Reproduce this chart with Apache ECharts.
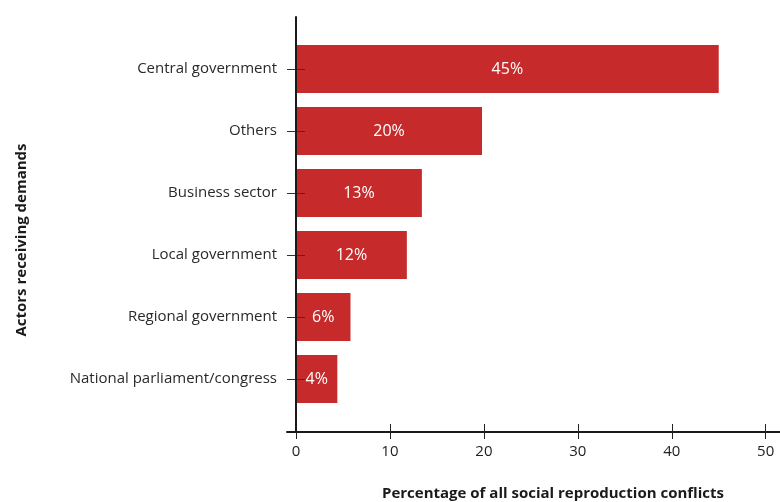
<!DOCTYPE html>
<html>
<head>
<meta charset="utf-8">
<script src="https://cdn.jsdelivr.net/npm/echarts@6/dist/echarts.min.js"></script>
<style>html,body{margin:0;padding:0;background:#fff}#main{width:780px;height:502px}</style>
</head>
<body>
<div id="main"></div>
<script>
const categories = ['Central government', 'Others', 'Business sector', 'Local government', 'Regional government', 'National parliament/congress'];
const values = [45, 19.8, 13.4, 11.8, 5.8, 4.4];
const xMin = 0, xMax = 50, xInterval = 10;
const xAxisTitle = 'Percentage of all social reproduction conflicts';
const yAxisTitle = 'Actors receiving demands';

const FONT = 'Open Sans';
const chart = echarts.init(document.getElementById('main'), null, {renderer: 'canvas'});
chart.setOption({
  animation: false,
  backgroundColor: '#fff',
  textStyle: {fontFamily: FONT},
  title: {
    text: xAxisTitle, left: 377, top: 481,
    textStyle: {fontFamily: FONT, fontSize: 15, fontWeight: 'bold', color: '#1a1a1a'}
  },
  graphic: [{
    type: 'text', x: 22, y: 240, rotation: Math.PI / 2,
    style: {text: yAxisTitle, font: 'bold 15px "Open Sans"', fill: '#1a1a1a', textAlign: 'center', textVerticalAlign: 'middle'}
  }],
  grid: [
    {left: 296, right: 14.3, top: 38, bottom: 92},
    {left: 287, right: 0, top: 17, bottom: 70}
  ],
  xAxis: [
    {gridIndex: 0, type: 'value', position: 'bottom', min: xMin, max: xMax, interval: xInterval, offset: 14, z: 10,
      axisLine: {show: false}, splitLine: {show: false},
      axisTick: {show: true, length: 15, lineStyle: {color: '#222', width: 1}},
      axisLabel: {margin: 20, fontSize: 15, color: '#222', fontFamily: FONT}},
    {gridIndex: 1, type: 'value', position: 'bottom', min: -0.96, max: 51.52, z: 10,
      axisLine: {show: true, onZero: true, lineStyle: {color: '#1a1a1a', width: 2}},
      axisTick: {show: false}, axisLabel: {show: false}, splitLine: {show: false}}
  ],
  yAxis: [
    {gridIndex: 0, type: 'category', position: 'left', data: categories, inverse: true, offset: -9, z: 10,
      axisLine: {show: false},
      axisTick: {show: true, alignWithLabel: true, length: 18, lineStyle: {color: '#333', width: 1}},
      axisLabel: {margin: 28, fontSize: 15, color: '#2a2a2a', fontFamily: FONT}},
    {gridIndex: 1, type: 'value', position: 'left', min: 0, max: 1, z: 11,
      axisLine: {show: true, onZero: true, lineStyle: {color: '#1a1a1a', width: 2}},
      axisTick: {show: false}, axisLabel: {show: false}, splitLine: {show: false}}
  ],
  series: [{
    type: 'bar', xAxisIndex: 0, yAxisIndex: 0, data: values, barWidth: 48, z: 1,
    itemStyle: {color: '#C62A2A'},
    label: {show: true, position: 'inside', color: '#fff', fontSize: 16, fontFamily: FONT,
      formatter: p => Math.round(p.value) + '%'}
  }]
});
</script>
</body>
</html>
